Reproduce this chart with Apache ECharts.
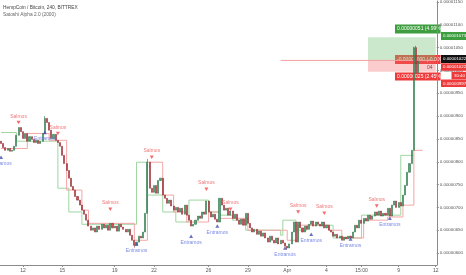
<!DOCTYPE html>
<html><head><meta charset="utf-8">
<script src="https://cdn.jsdelivr.net/npm/echarts@6/dist/echarts.min.js"></script>
<style>html,body{margin:0;padding:0;background:#fff}#c{width:466px;height:275px}</style>
</head><body><div id="c"></div><script>
// prices in satoshi (1e-8 BTC)
const firstOpen = 845;
const closes = [840,831,825,829,823,825,834,858,875,866,
851,862,845,855,849,842,847,840,845,862,
895,886,869,851,860,847,842,834,814,796,
781,764,746,738,724,716,705,694,685,672,
659,650,655,646,659,652,663,655,661,650,
665,655,659,648,663,657,652,646,652,639,
628,617,624,637,633,646,687,799,742,733,
748,731,759,764,727,720,709,716,703,694,
700,690,698,685,705,683,672,659,663,672,
681,676,690,685,714,690,679,685,674,668,
720,705,694,698,683,692,676,685,672,663,
674,661,687,665,655,646,652,641,648,637,
644,633,624,637,628,622,633,620,628,622,
615,611,620,646,668,624,668,655,646,659,
652,663,670,659,668,663,659,668,655,661,
650,646,637,641,633,637,628,635,631,637,
633,646,661,655,672,665,676,670,683,674,
681,690,683,692,681,687,683,698,681,705,
714,700,711,703,727,748,777,796,825,1050,
995,1021];
const wickHigh = {20:900, 67:806, 189:1052, 190:1054};
const wickLow = {61:612, 131:607};
const slotCount = 200;
const xTickIdx = [10,28,52,70,95,113,131,149,165,182,199];
const xTickText = ['12','15','19','22','26','29','Apr','4','15:00','9','12'];
const yTicks = [600,650,700,750,800,850,900,950,1000,1050,1100,1150];
// indicator step lines [candle index, price]
const greenBand = [[0,864],[7,845],[26,742],[31,690],[37,663],[62,799],[67,727],[74,690],[80,668],[86,716],[95,690],[100,683],[106,672],[112,650],[128,639],[129,672],[135,650],[140,661],[152,633],[165,683],[183,814],[189,814]];
const redBand = [[0,829],[12,862],[22,847],[30,738],[37,694],[40,665],[61,628],[67,799],[74,727],[79,690],[85,668],[95,690],[100,676],[113,650],[131,628],[136,661],[150,650],[156,633],[166,672],[177,679],[184,705],[189,825],[193,825]];
const salmos = [[8,886],[26,862],[50,696],[69,810],[94,740],[105,696],[136,690],[148,687],[172,703]];
const entramos = [[0,810],[20,864],[62,620],[87,637],[99,659],[130,611],[142,641],[160,631],[178,676]];
const lastPrice = 1022, targetPrice = 1073, stopPrice = 997;
const posStart = 168, posEnd = 199, priceLineStart = 128;

const cats = Array.from({length: slotCount}, (_, i) => String(i));
const ohlc = closes.map((c, i) => {
  const o = i === 0 ? firstOpen : closes[i - 1];
  const hi = Math.max(o, c, wickHigh[i] || 0);
  const lo = Math.min(o, c, wickLow[i] || Infinity);
  return [o, c, lo, hi];
});
const FONT = 'Liberation Sans';
const fmtPrice = v => '0.' + String(Math.round(v)).padStart(8, '0');

const chart = echarts.init(document.getElementById('c'), null, {renderer: 'canvas'});
chart.setOption({
  animation: false,
  backgroundColor: '#fff',
  grid: {left: 0, right: 26, top: 0, bottom: 10},
  xAxis: {
    type: 'category', data: cats, boundaryGap: true,
    axisLine: {lineStyle: {color: '#8a8a8a', width: 1}},
    axisTick: {show: true, length: 2, interval: (i) => xTickIdx.includes(i), alignWithLabel: true, lineStyle: {color: '#8a8a8a'}},
    axisLabel: {interval: (i) => xTickIdx.includes(i), formatter: (v, i) => xTickText[xTickIdx.indexOf(i)] || '',
      fontSize: 5, color: '#555', margin: 3, fontFamily: FONT},
    splitLine: {show: false}
  },
  yAxis: {
    type: 'value', position: 'right', min: 573.8, max: 1152.3, z: 10,
    axisLine: {show: true, lineStyle: {color: '#8a8a8a', width: 1}},
    axisTick: {show: true, length: 2, customValues: yTicks, lineStyle: {color: '#8a8a8a'}},
    axisLabel: {customValues: yTicks, formatter: fmtPrice, fontSize: 4.4, color: '#555', margin: 3, fontFamily: FONT},
    splitLine: {show: false}
  },
  series: [
    {type: 'line', data: greenBand, step: 'end', symbol: 'none', z: 1,
     lineStyle: {color: '#9fd6a1', width: 1}},
    {type: 'line', data: redBand, step: 'end', symbol: 'none', z: 1,
     lineStyle: {color: '#f5a5a5', width: 1}},
    {type: 'line', data: [[priceLineStart, lastPrice], [slotCount - 1, lastPrice]], symbol: 'none', z: 1,
     lineStyle: {color: '#f3a0a0', width: 1}},
    {type: 'candlestick', data: ohlc, barWidth: '72%', z: 3,
     itemStyle: {color: '#4caf72', color0: '#d64b56', borderColor: '#2e7048', borderColor0: '#8e2b33', borderWidth: 0.6},
     markArea: {silent: true, data: [
       [{xAxis: posStart, yAxis: targetPrice, itemStyle: {color: 'rgba(120,195,120,0.38)'}}, {xAxis: posEnd, yAxis: lastPrice}],
       [{xAxis: posStart, yAxis: lastPrice, itemStyle: {color: 'rgba(240,110,110,0.35)'}}, {xAxis: posEnd, yAxis: stopPrice}]
     ]}},
    {type: 'scatter', data: salmos, symbol: 'triangle', symbolRotate: 180, symbolSize: [4, 3.5], z: 4,
     itemStyle: {color: '#f04848'},
     label: {show: true, position: 'top', distance: 2, formatter: 'Salmos', fontSize: 5, color: '#ee5555', fontFamily: FONT}},
    {type: 'scatter', data: entramos, symbol: 'triangle', symbolSize: [4, 3.5], z: 4,
     itemStyle: {color: '#3f51b5'},
     label: {show: true, position: 'bottom', distance: 2, formatter: 'Entramos', fontSize: 5, color: '#5a6ddc', fontFamily: FONT}}
  ],
  graphic: [
    {type: 'text', left: 3, top: 5.5, z: 20, style: {text: 'HempCoin / Bitcoin, 240, BITTREX', fontSize: 4.8, fill: '#444', fontFamily: FONT}},
    {type: 'text', left: 3, top: 12.5, z: 20, style: {text: 'Satoshi Alpha 2.0 (2000)', fontSize: 4.8, fill: '#666', fontFamily: FONT}},
    // position tool labels
    {type: 'rect', shape: {x: 395, y: 24.5, width: 50, height: 9}, z: 0, style: {fill: '#3e9d3e'}},
    {type: 'text', x: 397, y: 29, z: 0, style: {text: '0.00000051 (4.99%)', fontSize: 5, fill: '#fff', fontFamily: FONT, verticalAlign: 'middle'}},
    {type: 'rect', shape: {x: 395, y: 55, width: 50, height: 9}, z: 0, style: {fill: '#ee3a3a'}},
    {type: 'text', x: 397, y: 59.5, z: 0, style: {text: '-0.00000000 (-0.00%) 999', fontSize: 5, fill: '#fff', fontFamily: FONT, verticalAlign: 'middle'}},
    {type: 'text', x: 427, y: 67.5, z: 0, style: {text: '04', fontSize: 5, fill: '#333', fontFamily: FONT, verticalAlign: 'middle'}},
    {type: 'rect', shape: {x: 395, y: 72.5, width: 50, height: 8}, z: 0, style: {fill: '#ee3a3a'}},
    {type: 'text', x: 397, y: 76.5, z: 0, style: {text: '0.00000025 (2.45%)', fontSize: 5, fill: '#fff', fontFamily: FONT, verticalAlign: 'middle'}},
    // cover right of price axis
    {type: 'rect', shape: {x: 440.6, y: 0, width: 26, height: 265}, z: 1, style: {fill: '#fff'}},
    // axis price tags
    {type: 'rect', shape: {x: 441, y: 32, width: 25, height: 8}, z: 100, style: {fill: '#3e9d3e'}},
    {type: 'text', x: 443, y: 36, z: 101, style: {text: '0.00001073', fontSize: 4.4, fill: '#fff', fontFamily: FONT, verticalAlign: 'middle'}},
    {type: 'rect', shape: {x: 441, y: 55, width: 25, height: 8}, z: 100, style: {fill: '#111'}},
    {type: 'text', x: 443, y: 59, z: 101, style: {text: '0.00001022', fontSize: 4.4, fill: '#fff', fontFamily: FONT, verticalAlign: 'middle'}},
    {type: 'rect', shape: {x: 441, y: 63.3, width: 25, height: 7.5}, z: 100, style: {fill: '#ee3a3a'}},
    {type: 'text', x: 443, y: 67, z: 101, style: {text: '0.00001022', fontSize: 4.4, fill: '#fff', fontFamily: FONT, verticalAlign: 'middle'}},
    {type: 'rect', shape: {x: 451.5, y: 71.8, width: 14.5, height: 7.5}, z: 100, style: {fill: '#ee3a3a'}},
    {type: 'text', x: 454, y: 75.5, z: 101, style: {text: '30:40', fontSize: 4.4, fill: '#fff', fontFamily: FONT, verticalAlign: 'middle'}},
    {type: 'rect', shape: {x: 441, y: 79.5, width: 25, height: 7.5}, z: 100, style: {fill: '#ee3a3a'}},
    {type: 'text', x: 443, y: 83.3, z: 101, style: {text: '0.00000997', fontSize: 4.4, fill: '#fff', fontFamily: FONT, verticalAlign: 'middle'}}
  ]
});
</script></body></html>
